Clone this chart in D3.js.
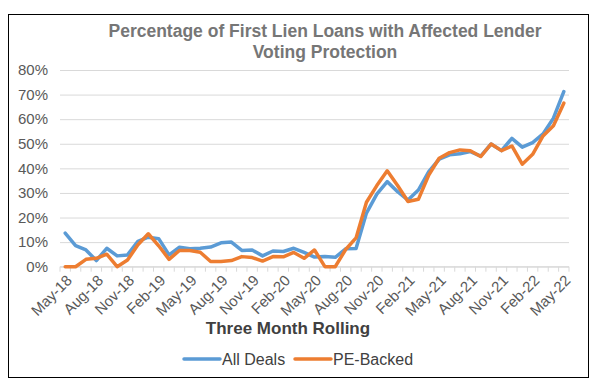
<!DOCTYPE html>
<html>
<head>
<meta charset="utf-8">
<script src="https://cdnjs.cloudflare.com/ajax/libs/d3/7.8.5/d3.min.js"></script>
<style>
  html, body { margin: 0; padding: 0; background: #fff; }
  svg { display: block; font-family: "Liberation Sans", Arial, sans-serif; }
</style>
</head>
<body>
<svg id="chart" width="603" height="392"></svg>
<script>
const categories = [
  "May-18","Jun-18","Jul-18","Aug-18","Sep-18","Oct-18","Nov-18","Dec-18","Jan-19","Feb-19","Mar-19","Apr-19",
  "May-19","Jun-19","Jul-19","Aug-19","Sep-19","Oct-19","Nov-19","Dec-19","Jan-20","Feb-20","Mar-20","Apr-20",
  "May-20","Jun-20","Jul-20","Aug-20","Sep-20","Oct-20","Nov-20","Dec-20","Jan-21","Feb-21","Mar-21","Apr-21",
  "May-21","Jun-21","Jul-21","Aug-21","Sep-21","Oct-21","Nov-21","Dec-21","Jan-22","Feb-22","Mar-22","Apr-22",
  "May-22"
];
const tickLabels = ["May-18","Aug-18","Nov-18","Feb-19","May-19","Aug-19","Nov-19","Feb-20","May-20",
  "Aug-20","Nov-20","Feb-21","May-21","Aug-21","Nov-21","Feb-22","May-22"];
const yTicks = [0, 10, 20, 30, 40, 50, 60, 70, 80];
const allDeals = [13.7, 8.6, 6.8, 2.5, 7.5, 4.4, 4.8, 10.3, 12.0, 11.4, 4.8, 7.9,
  7.3, 7.5, 8.0, 9.7, 10.0, 6.6, 6.8, 4.4, 6.4, 6.2, 7.5, 5.8,
  3.9, 4.1, 3.8, 7.3, 7.4, 21.8, 29.5, 34.6, 30.5, 27.1, 31.2, 38.7,
  43.7, 45.5, 45.9, 46.8, 45.0, 49.9, 47.2, 52.2, 48.6, 50.5, 54.0, 60.4,
  71.2];
const peBacked = [0, 0, 3.0, 3.4, 5.1, 0, 2.7, 8.9, 13.4, 8.5, 3.0, 6.6,
  6.6, 5.9, 2.1, 2.1, 2.5, 4.1, 3.7, 2.3, 4.1, 4.0, 5.8, 3.4,
  6.8, 0, 0, 7.0, 11.7, 26.2, 33.0, 39.0, 33.0, 26.5, 27.4, 37.3,
  44.1, 46.4, 47.5, 47.2, 44.8, 49.9, 47.2, 49.1, 41.7, 45.7, 53.2, 57.3,
  66.5];
const seriesNames = ["All Deals", "PE-Backed"];
const seriesColors = ["#5B9BD5", "#ED7D31"];

const svg = d3.select("#chart");
const plot = { left: 60, right: 569, top: 70, bottom: 266.7 };

// outer border
svg.append("rect").attr("x", 8.5).attr("y", 14.5).attr("width", 580).attr("height", 363)
  .attr("fill", "#fff").attr("stroke", "#000").attr("stroke-width", 1);

const x = d3.scaleBand().domain(d3.range(categories.length)).range([plot.left, plot.right]).padding(0);
const y = d3.scaleLinear().domain([0, 80]).range([plot.bottom, plot.top]);
const cx = i => x(i) + x.bandwidth() / 2;

// gridlines + y labels
const yAxis = d3.axisLeft(y).tickValues(yTicks).tickFormat(d => d + "%")
  .tickSize(-(plot.right - plot.left)).tickPadding(12);
const gy = svg.append("g").attr("transform", `translate(${plot.left},0)`).call(yAxis);
gy.select(".domain").remove();
gy.selectAll(".tick line").attr("stroke", "#D9D9D9").attr("stroke-width", 1);
gy.selectAll(".tick text").attr("fill", "#595959").style("font-size", "15px")
  .style("font-family", "'Liberation Sans', Arial, sans-serif");

// x axis line and tick marks at band boundaries
svg.append("line").attr("x1", plot.left).attr("x2", plot.right)
  .attr("y1", y(0)).attr("y2", y(0)).attr("stroke", "#D9D9D9").attr("stroke-width", 1);
const boundaries = d3.range(categories.length + 1).map(i => i < categories.length ? x(i) : plot.right);
svg.append("g").selectAll("line").data(boundaries).join("line")
  .attr("x1", d => d).attr("x2", d => d)
  .attr("y1", y(0)).attr("y2", y(0) + 5)
  .attr("stroke", "#D9D9D9").attr("stroke-width", 1);

// x labels
const labelIdx = tickLabels.map(l => categories.indexOf(l));
svg.append("g").selectAll("text").data(labelIdx).join("text")
  .attr("transform", i => `translate(${cx(i) + 4},${y(0) + 11}) rotate(-45)`)
  .attr("text-anchor", "end").attr("dy", "0.35em")
  .attr("fill", "#595959").style("font-size", "15px")
  .text(i => categories[i]);

// lines
const line = d3.line().x((d, i) => cx(i)).y(d => y(d));
[allDeals, peBacked].forEach((s, k) => {
  svg.append("path").datum(s).attr("d", line)
    .attr("fill", "none").attr("stroke", seriesColors[k])
    .attr("stroke-width", 3.5).attr("stroke-linejoin", "round").attr("stroke-linecap", "round");
});

// title
const title = svg.append("text").attr("text-anchor", "middle")
  .attr("fill", "#767676").style("font-size", "17.5px").style("font-weight", "bold");
title.append("tspan").attr("x", 325).attr("y", 37).text("Percentage of First Lien Loans with Affected Lender");
title.append("tspan").attr("x", 325).attr("y", 58).text("Voting Protection");

// axis title
svg.append("text").attr("x", 288).attr("y", 334).attr("text-anchor", "middle")
  .attr("fill", "#404040").style("font-size", "17px").style("font-weight", "bold")
  .text("Three Month Rolling");

// legend
const legendItems = [
  { name: seriesNames[0], color: seriesColors[0], x1: 184, x2: 220, tx: 222 },
  { name: seriesNames[1], color: seriesColors[1], x1: 295, x2: 331, tx: 333 }
];
const lg = svg.append("g");
legendItems.forEach(it => {
  lg.append("line").attr("x1", it.x1).attr("x2", it.x2).attr("y1", 359).attr("y2", 359)
    .attr("stroke", it.color).attr("stroke-width", 3.5).attr("stroke-linecap", "round");
  lg.append("text").attr("x", it.tx).attr("y", 359).attr("dy", "0.35em")
    .attr("fill", "#404040").style("font-size", "16px").text(it.name);
});
</script>
</body>
</html>
